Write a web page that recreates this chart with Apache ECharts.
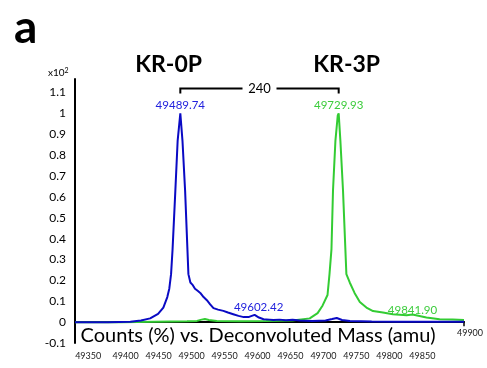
<!DOCTYPE html>
<html>
<head>
<meta charset="utf-8">
<script src="https://cdn.jsdelivr.net/npm/echarts@6/dist/echarts.min.js"></script>
<style>
  html, body { margin: 0; padding: 0; background: #fff; }
  #chart { width: 487px; height: 368px; }
</style>
</head>
<body>
<div id="chart"></div>
<script>
// deconvoluted mass (amu) vs counts (x10^2 %)
const kr0pMass = [49330, 49380, 49414, 49430, 49444, 49456, 49464, 49470, 49473, 49475.7, 49478, 49482.2, 49485.7, 49489.74,
  49493, 49497, 49502, 49505, 49508, 49512, 49516, 49520, 49525, 49530, 49535, 49540, 49547, 49555, 49562, 49570, 49578,
  49586, 49594, 49602.42, 49609, 49616, 49625, 49631, 49640, 49650, 49660, 49671, 49690, 49710, 49720, 49727, 49735, 49747,
  49780, 49820, 49870, 49920]
const kr0pCounts = [0, 0, 0.002, 0.008, 0.018, 0.04, 0.07, 0.12, 0.16, 0.23, 0.35, 0.63, 0.87, 1.0,
  0.87, 0.63, 0.23, 0.19, 0.18, 0.16, 0.15, 0.14, 0.12, 0.105, 0.085, 0.067, 0.06, 0.054, 0.046, 0.038, 0.03,
  0.024, 0.025, 0.035, 0.022, 0.014, 0.012, 0.01, 0.012, 0.009, 0.011, 0.008, 0.006, 0.008, 0.015, 0.02, 0.01, 0.005,
  0.003, 0.002, 0.002, 0.002]
const kr3pMass = [49330, 49400, 49450, 49500, 49515, 49522, 49527, 49533, 49545, 49580, 49620, 49660, 49686, 49698,
  49705.6, 49713, 49716, 49719, 49721.3, 49725, 49728.5, 49729.93, 49732.5, 49736.5, 49741.6, 49746.7, 49754, 49762,
  49772, 49782, 49797, 49812, 49833, 49841.9, 49863, 49883, 49903, 49920]
const kr3pCounts = [0, 0, 0.002, 0.004, 0.006, 0.012, 0.015, 0.01, 0.005, 0.004, 0.005, 0.008, 0.018, 0.043,
  0.08, 0.13, 0.23, 0.35, 0.63, 0.87, 0.99, 1.0, 0.87, 0.63, 0.23, 0.19, 0.14, 0.097,
  0.07, 0.053, 0.046, 0.038, 0.033, 0.037, 0.022, 0.014, 0.013, 0.01]

const blueLabels = ['49489.74', '49602.42']
const blueLabelAt = [49489.74, 49602.42]
const greenLabels = ['49729.93', '49841.90']
const greenLabelAt = [49729.93, 49841.9]
const shiftDelta = '240'
const xTickLabels = [49350, 49400, 49450, 49500, 49550, 49600, 49650, 49700, 49750, 49800, 49850]
const xEndLabel = '49900'
const yTickLabels = [-0.1, 0, 0.1, 0.2, 0.3, 0.4, 0.5, 0.6, 0.7, 0.8, 0.9, 1, 1.1]

const BLUE = '#0a0ac4'
const GREEN = '#33cc33'
const FONT = 'Lato'

const zip = (xs, ys) => xs.map((x, i) => [x, ys[i]])
const findY = (xs, ys, x) => ys[xs.indexOf(x)]

const chart = echarts.init(document.getElementById('chart'))

const option = {
  animation: false,
  backgroundColor: '#fff',
  grid: { left: 75, right: 23, top: 79, bottom: 25 },
  xAxis: {
    type: 'value',
    min: 49330,
    max: 49920,
    interval: 10,
    offset: 3,
    axisLine: { lineStyle: { color: '#000', width: 2 } },
    axisTick: { show: false },
    splitLine: { show: false },
    axisLabel: {
      margin: 6,
      fontFamily: FONT,
      fontSize: 9,
      color: '#222',
      showMinLabel: false,
      showMaxLabel: false,
      formatter: (v) => {
        if (xTickLabels.indexOf(v) < 0) return ''
        return v === xTickLabels[0] ? String(v) : '{s|' + v + '}'
      },
      rich: { s: { fontFamily: FONT, fontSize: 9, color: '#222', padding: [0, 0, 0, 9] } }
    }
  },
  yAxis: {
    type: 'value',
    min: -0.1,
    max: 1.165,
    interval: 0.1,
    axisLine: { show: true, lineStyle: { color: '#000', width: 2 } },
    axisTick: { show: false },
    splitLine: { show: false },
    axisLabel: {
      margin: 9,
      fontFamily: FONT,
      fontSize: 12,
      color: '#000',
      formatter: (v) => {
        const r = Math.round(v * 10) / 10
        if (Math.abs(v - r) > 1e-6 || yTickLabels.indexOf(r) < 0) return ''
        return String(r)
      }
    }
  },
  series: [
    {
      name: 'KR-3P',
      type: 'line',
      data: zip(kr3pMass, kr3pCounts),
      showSymbol: false,
      lineStyle: { color: GREEN, width: 2 },
      z: 2
    },
    {
      name: 'KR-0P',
      type: 'line',
      data: zip(kr0pMass, kr0pCounts),
      showSymbol: false,
      lineStyle: { color: BLUE, width: 2 },
      z: 3
    }
  ]
}

chart.setOption(option)

// annotations placed through the axes
const px = (x, y) => chart.convertToPixel({ gridIndex: 0 }, [x, y])
const graphics = []

const textEl = (x, y, text, style) => ({
  type: 'text',
  x: x,
  y: y,
  silent: true,
  style: Object.assign({ text: text, fontFamily: FONT, align: 'center', verticalAlign: 'bottom' }, style)
})

blueLabelAt.forEach((m, i) => {
  const p = px(m, findY(kr0pMass, kr0pCounts, m))
  const dx = i === 0 ? 0 : 4
  graphics.push(textEl(p[0] + dx, p[1] - 2, blueLabels[i], { fontSize: 11.5, fill: '#2222dd' }))
})
greenLabelAt.forEach((m, i) => {
  const p = px(m, findY(kr3pMass, kr3pCounts, m))
  graphics.push(textEl(p[0], p[1] + (i === 0 ? -2 : 2), greenLabels[i], { fontSize: 11.5, fill: '#3ccc3c' }))
})

// bracket between the two main peaks
const bl = px(blueLabelAt[0], 1.12)
const br = px(greenLabelAt[0], 1.12)
const bDown = px(blueLabelAt[0], 1.095)[1]
const mid = (bl[0] + br[0]) / 2
const gap = 17
graphics.push({
  type: 'polyline', silent: true,
  shape: { points: [[bl[0], bDown], [bl[0], bl[1]], [mid - gap, bl[1]]] },
  style: { stroke: '#000', lineWidth: 2, fill: null }
})
graphics.push({
  type: 'polyline', silent: true,
  shape: { points: [[mid + gap, br[1]], [br[0], br[1]], [br[0], bDown]] },
  style: { stroke: '#000', lineWidth: 2, fill: null }
})
graphics.push(textEl(mid, bl[1], shiftDelta, { fontSize: 13, fill: '#000', verticalAlign: 'middle' }))

// peak titles
graphics.push(textEl(px(49472, 0)[0], 76, 'KR-0P', { fontSize: 23, fontWeight: 'bold', fill: '#000' }))
graphics.push(textEl(br[0] + 8, 76, 'KR-3P', { fontSize: 23, fontWeight: 'bold', fill: '#000' }))

// panel letter, unit, axis title, end label
graphics.push({ type: 'text', x: 14, y: 51, silent: true,
  style: { text: 'a', fontFamily: FONT, fontSize: 46, fontWeight: 'bold', fill: '#000', verticalAlign: 'bottom' } })
graphics.push({ type: 'text', x: 48, y: 79, silent: true,
  style: { text: 'x10{sup|2}', fontFamily: FONT, fontSize: 10, fill: '#000', verticalAlign: 'bottom',
    rich: { sup: { fontFamily: FONT, fontSize: 7, verticalAlign: 'top', padding: [0, 0, 5, 0] } } } })
graphics.push({ type: 'text', x: 258, y: 336, silent: true,
  style: { text: 'Counts (%) vs. Deconvoluted Mass (amu)', fontFamily: FONT, fontSize: 20, fill: '#000',
    align: 'center', verticalAlign: 'middle' } })
const endP = px(49920, 0)
graphics.push({ type: 'line', silent: true,
  shape: { x1: endP[0], y1: endP[1] - 1, x2: endP[0], y2: endP[1] + 4 },
  style: { stroke: '#000', lineWidth: 1.5 } })
graphics.push(textEl(endP[0] + 6, endP[1] + 15, xEndLabel, { fontSize: 9, fill: '#222' }))

chart.setOption({ graphic: graphics })
</script>
</body>
</html>
